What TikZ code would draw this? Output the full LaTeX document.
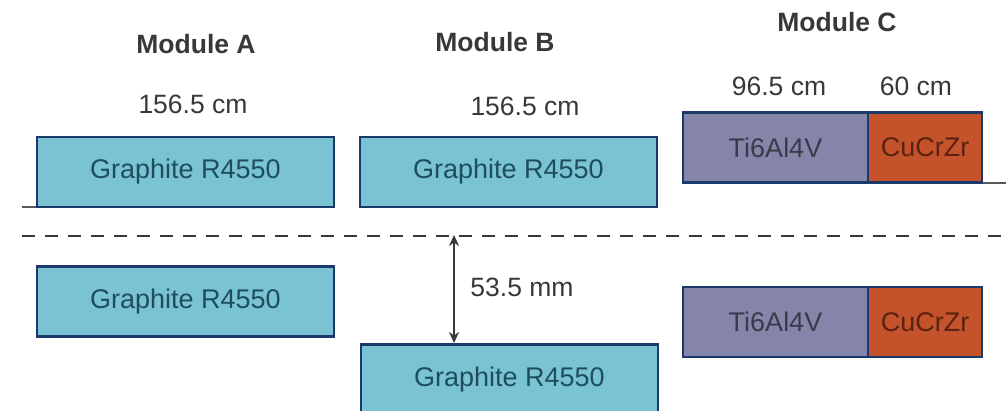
\documentclass[tikz,border=0pt]{standalone}
\usepackage{fontspec}
\setmainfont{Liberation Sans}
\usepackage{xcolor}
\usetikzlibrary{positioning,arrows.meta}
\definecolor{graphitefill}{HTML}{79C3D3}
\definecolor{graphitetext}{HTML}{1E4E5E}
\definecolor{titanfill}{HTML}{8585AA}
\definecolor{titantext}{HTML}{3A3A4A}
\definecolor{copperfill}{HTML}{C4532B}
\definecolor{coppertext}{HTML}{5A2210}
\definecolor{edgeblue}{HTML}{1B3A6B}
\definecolor{inkgray}{HTML}{383838}

\begin{document}
\begin{tikzpicture}[x=1pt,y=-1pt,
  txt/.style={inner sep=0pt,text=inkgray,font=\fontsize{26.5}{31}\selectfont},
  modname/.style={txt,font=\fontsize{26.5}{31}\selectfont\bfseries},
  slab/.style={draw=edgeblue,line width=2.5pt,inner sep=0pt,minimum height=70pt,font=\fontsize{27}{32}\selectfont},
  graphite/.style={slab,fill=graphitefill,text=graphitetext,minimum width=297pt},
  titan/.style={slab,fill=titanfill,text=titantext,minimum width=185pt},
  copper/.style={slab,fill=copperfill,text=coppertext,minimum width=114pt},
  midplane/.style={draw=inkgray,line width=2.8pt,dash pattern=on 13pt off 10pt},
  stub/.style={draw=black!65,line width=2pt},
  gapline/.style={draw=inkgray,line width=2pt,{Stealth[length=11pt,width=10pt]}-{Stealth[length=11pt,width=10pt]}}]
 \clip (0,0) rectangle (1006,410);
 \node[modname] (MA) at (196,44) {Module A};
 \node[modname] (MB) at (495,42) {Module B};
 \node[modname] (MC) at (837,22) {Module C};
 \node[txt] (LA) at (193,104) {156.5 cm};
 \node[txt] (LB) at (525,106) {156.5 cm};
 \node[txt] (LTi) at (779,86) {96.5 cm};
 \node[txt] (LCu) at (916,86) {60 cm};
 \node[graphite] (Atop) at (185.5,172) {Graphite R4550};
 \node[graphite] (Btop) at (508.5,172) {Graphite R4550};
 \node[titan] (Ctop) at (775.5,147.5) {Ti6Al4V};
 \node[copper,right=-2.5pt of Ctop] (Ccutop) {CuCrZr};
 \node[graphite] (Abot) at (185.5,301.5) {Graphite R4550};
 \node[graphite,anchor=north] (Bbot) at (509.5,343) {Graphite R4550};
 \node[titan] (Cbot) at (775.5,322) {Ti6Al4V};
 \node[copper,right=-2.5pt of Cbot] (Ccubot) {CuCrZr};
 \coordinate (stubA) at (22,207);
 \coordinate (stubC) at (1006,183);
 \draw[stub] (stubA) -- (stubA -| Atop.west);
 \draw[stub] (stubC -| Ccutop.east) -- (stubC);
 \coordinate (dashL) at (22,236);
 \coordinate (dashR) at (1006,236);
 \draw[midplane] (dashL) -- (dashR);
 \coordinate (gaptop) at (454,235);
 \draw[gapline] (gaptop) -- (gaptop |- Bbot.north);
 \node[txt] (gap) at (522,287) {53.5 mm};
\end{tikzpicture}
\end{document}
